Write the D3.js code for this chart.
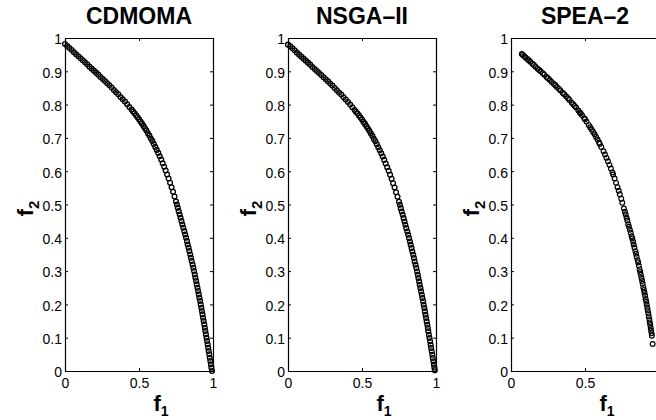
<!DOCTYPE html>
<html>
<head>
<meta charset="utf-8">
<script src="https://cdn.jsdelivr.net/npm/d3@7"></script>
<style>
  html, body { margin: 0; padding: 0; background: #fff; }
  svg { display: block; }
  text { font-family: "Liberation Sans", Arial, Helvetica, sans-serif; fill: #000; }
</style>
</head>
<body>
<svg id="chart" width="656" height="420"></svg>
<script>
// ---- data ----
const titles = ["CDMOMA", "NSGA\u2013II", "SPEA\u20132"];
const xLabel = "f";
const xSub = "1";
const yLabel = "f";
const ySub = "2";
const xTicks = [0, 0.5, 1];
const xTickLabels = ["0", "0.5", "1"];
const yTicks = [0, 0.1, 0.2, 0.3, 0.4, 0.5, 0.6, 0.7, 0.8, 0.9, 1];
const yTickLabels = ["0", "0.1", "0.2", "0.3", "0.4", "0.5", "0.6", "0.7", "0.8", "0.9", "1"];

const cdmoma = [
  [0,0.982],[0.015,0.976],[0.03,0.97],[0.045,0.964],[0.06,0.957],[0.075,0.951],[0.09,0.945],[0.105,0.939],
  [0.12,0.933],[0.135,0.927],[0.15,0.921],[0.165,0.914],[0.18,0.908],[0.195,0.902],[0.21,0.896],[0.225,0.89],
  [0.24,0.883],[0.255,0.877],[0.27,0.871],[0.285,0.864],[0.3,0.858],[0.315,0.851],[0.33,0.844],[0.345,0.837],
  [0.36,0.831],[0.375,0.823],[0.39,0.816],[0.405,0.809],[0.42,0.801],[0.435,0.793],[0.45,0.785],
  [0.46,0.779],[0.47,0.774],[0.48,0.768],[0.49,0.762],[0.5,0.756],[0.51,0.749],[0.52,0.743],[0.53,0.736],
  [0.54,0.729],[0.55,0.722],[0.56,0.714],[0.57,0.707],[0.58,0.698],[0.59,0.691],[0.6,0.682],[0.61,0.673],
  [0.62,0.664],[0.63,0.655],[0.64,0.645],[0.65,0.635],[0.66,0.624],[0.67,0.613],[0.68,0.602],[0.69,0.59],
  [0.7,0.578],[0.71,0.565],[0.72,0.552],[0.73,0.538],[0.74,0.524],[0.75,0.509],
  [0.756,0.5],[0.762,0.49],[0.768,0.48],[0.775,0.47],[0.781,0.46],[0.787,0.45],[0.793,0.44],[0.799,0.43],
  [0.806,0.42],[0.812,0.41],[0.818,0.4],[0.824,0.39],[0.829,0.38],[0.835,0.37],[0.84,0.36],[0.846,0.35],
  [0.851,0.34],[0.856,0.33],[0.862,0.32],[0.867,0.31],[0.872,0.3],[0.877,0.29],[0.881,0.28],[0.886,0.27],
  [0.89,0.26],[0.895,0.25],[0.899,0.24],[0.904,0.23],[0.908,0.22],[0.913,0.21],[0.917,0.2],[0.921,0.19],
  [0.925,0.18],[0.929,0.17],[0.933,0.16],[0.937,0.15],[0.941,0.14],[0.945,0.13],[0.948,0.12],[0.952,0.11],
  [0.956,0.1],[0.96,0.09],[0.964,0.08],[0.967,0.07],[0.971,0.06],[0.975,0.05],[0.978,0.04],[0.982,0.03],
  [0.986,0.02],[0.989,0.01],[0.993,0.0]
];

const nsga2 = [
  [0,0.98],[0.015,0.975],[0.03,0.969],[0.045,0.963],[0.06,0.956],[0.075,0.95],[0.09,0.944],[0.105,0.938],
  [0.12,0.932],[0.135,0.926],[0.15,0.92],[0.165,0.913],[0.18,0.907],[0.195,0.901],[0.21,0.895],[0.225,0.889],
  [0.24,0.882],[0.255,0.876],[0.27,0.87],[0.285,0.863],[0.3,0.857],[0.315,0.85],[0.33,0.843],[0.345,0.836],
  [0.36,0.83],[0.375,0.822],[0.39,0.815],[0.405,0.808],[0.42,0.8],[0.435,0.792],[0.45,0.784],
  [0.46,0.778],[0.47,0.773],[0.48,0.767],[0.49,0.761],[0.5,0.755],[0.51,0.748],[0.52,0.742],[0.53,0.735],
  [0.54,0.728],[0.55,0.721],[0.56,0.713],[0.57,0.706],[0.58,0.697],[0.59,0.69],[0.6,0.681],[0.61,0.672],
  [0.62,0.663],[0.63,0.654],[0.64,0.644],[0.65,0.634],[0.66,0.623],[0.67,0.612],[0.68,0.601],[0.69,0.589],
  [0.7,0.577],[0.71,0.564],[0.72,0.551],[0.73,0.537],[0.74,0.523],[0.75,0.508],
  [0.756,0.499],[0.762,0.489],[0.768,0.479],[0.775,0.469],[0.781,0.459],[0.787,0.449],[0.793,0.439],[0.799,0.429],
  [0.806,0.419],[0.812,0.409],[0.818,0.399],[0.824,0.389],[0.829,0.379],[0.835,0.369],[0.84,0.359],[0.846,0.349],
  [0.851,0.339],[0.856,0.329],[0.862,0.319],[0.867,0.309],[0.872,0.299],[0.877,0.289],[0.881,0.279],[0.886,0.269],
  [0.89,0.259],[0.895,0.249],[0.899,0.239],[0.904,0.229],[0.908,0.219],[0.913,0.209],[0.917,0.199],[0.921,0.189],
  [0.925,0.179],[0.929,0.169],[0.933,0.159],[0.937,0.149],[0.941,0.139],[0.945,0.129],[0.948,0.119],[0.952,0.109],
  [0.956,0.099],[0.96,0.089],[0.964,0.079],[0.967,0.069],[0.971,0.059],[0.975,0.049],[0.978,0.039],[0.982,0.029],
  [0.986,0.019],[0.989,0.01],[0.992,0.002]
];

const spea2 = [
  [0.073,0.952],[0.08,0.949],[0.09,0.945],[0.1,0.941],[0.112,0.936],[0.12,0.933],[0.13,0.929],[0.145,0.923],
  [0.155,0.919],[0.165,0.914],[0.18,0.908],[0.19,0.904],[0.2,0.9],[0.215,0.894],[0.225,0.89],[0.24,0.883],
  [0.25,0.879],[0.262,0.874],[0.275,0.868],[0.29,0.862],[0.3,0.858],[0.31,0.853],[0.325,0.847],[0.335,0.842],
  [0.35,0.835],[0.36,0.831],[0.372,0.825],[0.385,0.819],[0.395,0.814],[0.41,0.806],[0.42,0.801],
  [0.43,0.796],[0.44,0.791],[0.455,0.782],[0.465,0.776],[0.47,0.774],[0.48,0.768],[0.495,0.759],[0.5,0.756],
  [0.51,0.749],[0.525,0.739],[0.535,0.732],[0.545,0.725],[0.555,0.718],[0.565,0.711],[0.575,0.703],[0.585,0.695],
  [0.595,0.686],[0.6,0.682],[0.61,0.673],[0.625,0.66],[0.635,0.65],[0.645,0.64],[0.655,0.63],[0.665,0.619],
  [0.675,0.608],[0.685,0.596],[0.69,0.59],[0.7,0.578],[0.71,0.565],[0.72,0.552],[0.728,0.541],[0.735,0.531],
  [0.745,0.517],[0.752,0.505],
  [0.763,0.488],[0.77,0.478],[0.775,0.47],[0.781,0.46],[0.786,0.452],[0.792,0.441],[0.797,0.433],[0.803,0.424],
  [0.809,0.415],[0.815,0.405],[0.819,0.398],[0.825,0.389],[0.829,0.38],[0.834,0.371],[0.84,0.36],[0.845,0.352],
  [0.849,0.343],[0.855,0.333],[0.859,0.326],[0.864,0.316],[0.869,0.305],[0.873,0.297],[0.877,0.289],[0.882,0.279],
  [0.886,0.27],[0.89,0.262],[0.894,0.251],[0.898,0.243],[0.902,0.235],[0.906,0.226],[0.91,0.216],[0.914,0.208],
  [0.917,0.199],[0.921,0.19],[0.924,0.182],[0.928,0.173],[0.931,0.164],[0.935,0.155],[0.938,0.146],[0.941,0.138],
  [0.944,0.129],[0.947,0.121],[0.95,0.113],[0.952,0.106],[0.957,0.081]
];

const series = [cdmoma, nsga2, spea2];

// ---- drawing ----
const W = 656, H = 420;
const svg = d3.select("#chart");
svg.append("rect").attr("width", W).attr("height", H).attr("fill", "#fff");

const panelLeft0 = 65, panelStep = 223, panelW = 148, panelTop = 38, panelBottom = 371;

series.forEach((data, i) => {
  const left = panelLeft0 + i * panelStep;
  const right = left + panelW;
  const x = d3.scaleLinear().domain([0, 1]).range([left, right]);
  const y = d3.scaleLinear().domain([0, 1]).range([panelBottom, panelTop]);
  const g = svg.append("g");

  const ax = g.append("g").attr("transform", `translate(0,${panelBottom})`)
    .call(d3.axisBottom(x).tickValues(xTicks).tickFormat((d, k) => xTickLabels[k])
      .tickSizeInner(-3).tickSizeOuter(0).tickPadding(7));
  const axT = g.append("g").attr("transform", `translate(0,${panelTop})`)
    .call(d3.axisTop(x).tickValues(xTicks).tickFormat("").tickSizeInner(-3).tickSizeOuter(0));
  const ay = g.append("g").attr("transform", `translate(${left},0)`)
    .call(d3.axisLeft(y).tickValues(yTicks).tickFormat((d, k) => yTickLabels[k])
      .tickSizeInner(-3).tickSizeOuter(0).tickPadding(3));
  const ayR = g.append("g").attr("transform", `translate(${right},0)`)
    .call(d3.axisRight(y).tickValues(yTicks).tickFormat("").tickSizeInner(-3).tickSizeOuter(0));

  [ax, axT, ay, ayR].forEach(a => {
    a.select(".domain").attr("stroke", "#000").attr("stroke-width", 1.2);
    a.selectAll(".tick line").attr("stroke", "#000").attr("stroke-width", 1);
    a.selectAll("text").attr("font-family", "Liberation Sans, Arial, sans-serif")
      .attr("font-size", 14).attr("fill", "#000");
  });
  ay.selectAll("text").attr("dy", "0.42em");
  // labels that would fall beyond the window edge are not shown in the reference
  ax.selectAll(".tick").filter(d => x(d) > W - 6).select("text").remove();

  g.append("g").selectAll("circle").data(data).join("circle")
    .attr("cx", d => x(d[0]))
    .attr("cy", d => y(d[1]))
    .attr("r", 2.4)
    .attr("fill", "none")
    .attr("stroke", "#000")
    .attr("stroke-width", i === 2 ? 1.15 : 1.3);

  g.append("text")
    .attr("x", (left + right) / 2).attr("y", 24)
    .attr("text-anchor", "middle")
    .attr("font-size", 23).attr("font-weight", "bold")
    .text(titles[i]);

  const xl = g.append("text")
    .attr("x", (left + right) / 2 + 22).attr("y", 411)
    .attr("text-anchor", "middle")
    .attr("font-size", 22).attr("font-weight", "bold");
  xl.append("tspan").text(xLabel);
  xl.append("tspan").attr("font-size", 14).attr("dy", 5).text(xSub);

  const yl = g.append("text")
    .attr("transform", `translate(${left - 32},${(panelTop + panelBottom) / 2 + 4}) rotate(-90)`)
    .attr("text-anchor", "middle")
    .attr("font-size", 22).attr("font-weight", "bold");
  yl.append("tspan").text(yLabel);
  yl.append("tspan").attr("font-size", 15).attr("dy", 6).text(ySub);
});
</script>
</body>
</html>
